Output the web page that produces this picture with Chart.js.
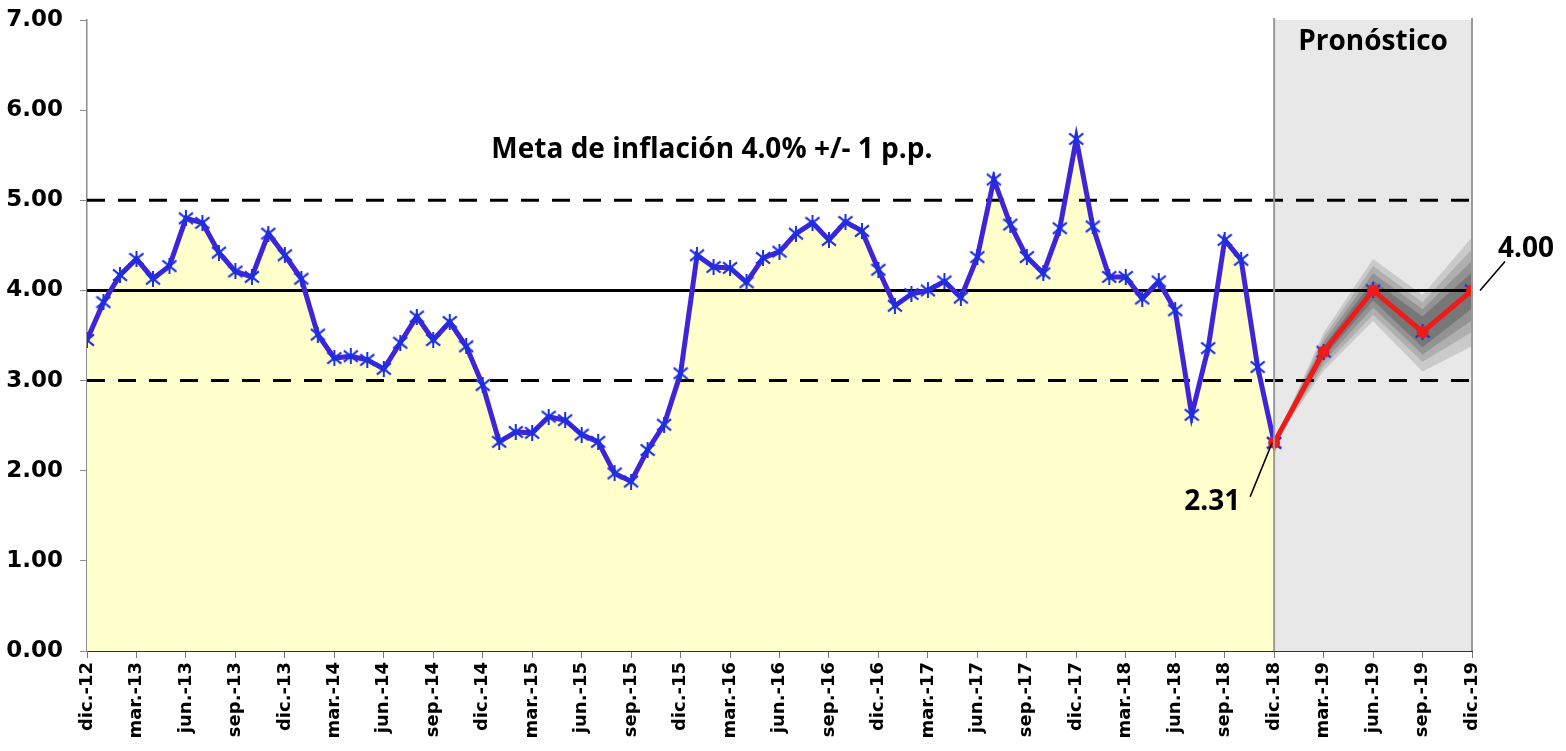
<!DOCTYPE html>
<html>
<head>
<meta charset="utf-8">
<script src="https://cdn.jsdelivr.net/npm/chart.js@4"></script>
<style>
  html, body { margin: 0; padding: 0; background: #fff; }
  #wrap { width: 1566px; height: 751px; }
</style>
</head>
<body>
<div id="wrap"><canvas id="inflChart" width="1566" height="751"></canvas></div>
<script>
// quarterly axis labels, one every 3 months from dic.-12 to dic.-19
const quarterLabels = [
  'dic.-12', 'mar.-13', 'jun.-13', 'sep.-13', 'dic.-13', 'mar.-14', 'jun.-14', 'sep.-14',
  'dic.-14', 'mar.-15', 'jun.-15', 'sep.-15', 'dic.-15', 'mar.-16', 'jun.-16', 'sep.-16',
  'dic.-16', 'mar.-17', 'jun.-17', 'sep.-17', 'dic.-17', 'mar.-18', 'jun.-18', 'sep.-18',
  'dic.-18', 'mar.-19', 'jun.-19', 'sep.-19', 'dic.-19'
];

// monthly inflation, dic.-12 .. dic.-18
const inflation = [
  3.45, 3.87, 4.17, 4.35, 4.13, 4.27, 4.80, 4.75, 4.42, 4.21, 4.15, 4.63,
  4.39, 4.13, 3.51, 3.25, 3.27, 3.23, 3.13, 3.42, 3.71, 3.45, 3.65, 3.38,
  2.95, 2.32, 2.43, 2.42, 2.60, 2.56, 2.40, 2.32, 1.97, 1.88, 2.23, 2.51,
  3.08, 4.39, 4.26, 4.25, 4.09, 4.36, 4.43, 4.63, 4.75, 4.56, 4.76, 4.66,
  4.23, 3.83, 3.96, 4.00, 4.10, 3.92, 4.37, 5.23, 4.73, 4.37, 4.19, 4.69,
  5.68, 4.71, 4.15, 4.15, 3.91, 4.10, 3.78, 2.62, 3.36, 4.56, 4.34, 3.15,
  2.31
];

// quarterly forecast, dic.-18 .. dic.-19
const forecastLabels = ['dic.-18', 'mar.-19', 'jun.-19', 'sep.-19', 'dic.-19'];
const forecast = [2.31, 3.32, 4.00, 3.54, 4.00];

// fan chart bands around the forecast, inner to outer
const fanUpper1 = [2.31, 3.38, 4.11, 3.71, 4.20];
const fanLower1 = [2.31, 3.26, 3.89, 3.37, 3.80];
const fanUpper2 = [2.31, 3.43, 4.19, 3.79, 4.33];
const fanLower2 = [2.31, 3.21, 3.81, 3.29, 3.67];
const fanUpper3 = [2.31, 3.48, 4.27, 3.87, 4.46];
const fanLower3 = [2.31, 3.16, 3.73, 3.21, 3.54];
const fanUpper4 = [2.31, 3.53, 4.35, 3.95, 4.59];
const fanLower4 = [2.31, 3.11, 3.66, 3.10, 3.38];

// inflation target and tolerance range
const target = 4.0;
const targetLow = 3.0;
const targetHigh = 5.0;

const monthOf = lbl => quarterLabels.indexOf(lbl) * 3;
const lastMonth = monthOf('dic.-19');
const fcMonths = forecastLabels.map(monthOf);

const histPoints = inflation.map((v, i) => ({ x: i, y: v }));
const fcPoints = arr => arr.map((v, k) => ({ x: fcMonths[k], y: v }));
const hLine = v => [{ x: 0, y: v }, { x: lastMonth, y: v }];

// Excel-like star marker: an X crossed by a vertical stroke
function starMarker(color, size) {
  const c = document.createElement('canvas');
  c.width = size; c.height = size;
  const g = c.getContext('2d');
  const m = size / 2, r = m - 1;
  g.strokeStyle = color;
  g.lineWidth = 2;
  g.beginPath();
  g.moveTo(m - r, m - r * 0.8); g.lineTo(m + r, m + r * 0.8);
  g.moveTo(m + r, m - r * 0.8); g.lineTo(m - r, m + r * 0.8);
  g.moveTo(m, 0); g.lineTo(m, size);
  g.stroke();
  return c;
}
const blueStar = starMarker('#1a30e2', 16);

const fanColors = ['#777777', '#939393', '#afafaf', '#cacaca'];
const fanSets = [[fanUpper1, fanLower1], [fanUpper2, fanLower2], [fanUpper3, fanLower3], [fanUpper4, fanLower4]];
const fanDatasets = [];
fanSets.forEach(([up, lo], k) => {
  fanDatasets.push({ data: fcPoints(up), fill: '+1', backgroundColor: fanColors[k], borderWidth: 0, pointRadius: 0, order: 4 + k });
  fanDatasets.push({ data: fcPoints(lo), fill: false, borderWidth: 0, pointRadius: 0, order: 4 + k });
});

const forecastZone = {
  id: 'forecastZone',
  beforeDatasetsDraw(chart) {
    const { ctx, chartArea: a, scales: { x } } = chart;
    const x0 = x.getPixelForValue(fcMonths[0]);
    const x1 = x.getPixelForValue(fcMonths[fcMonths.length - 1]);
    ctx.save();
    ctx.fillStyle = '#e8e8e8';
    ctx.fillRect(x0, a.top, x1 - x0, a.bottom - a.top);
    ctx.restore();
  },
  afterDatasetsDraw(chart) {
    const { ctx, chartArea: a, scales: { x, y } } = chart;
    const x0 = x.getPixelForValue(fcMonths[0]);
    const x1 = x.getPixelForValue(fcMonths[fcMonths.length - 1]);
    ctx.save();
    ctx.strokeStyle = '#9a9a9a';
    ctx.lineWidth = 2;
    [x0, x1].forEach(px => {
      ctx.beginPath(); ctx.moveTo(px, a.top - 2); ctx.lineTo(px, a.bottom); ctx.stroke();
    });

    ctx.fillStyle = '#000';
    ctx.textAlign = 'center';
    ctx.textBaseline = 'middle';
    ctx.font = 'bold 28px "Open Sans"';
    ctx.fillText('Meta de inflación 4.0% +/- 1 p.p.', x.getPixelForValue(37.9), y.getPixelForValue(5.56));
    ctx.fillText('Pronóstico', (x0 + x1) / 2, y.getPixelForValue(6.76));

    // callouts for first and last forecast values
    const pA = { x: x0, y: y.getPixelForValue(forecast[0]) };
    const pB = { x: x1, y: y.getPixelForValue(forecast[forecast.length - 1]) };
    ctx.strokeStyle = '#000';
    ctx.lineWidth = 1.6;
    ctx.beginPath();
    ctx.moveTo(pA.x - 2, pA.y); ctx.lineTo(pA.x - 24, pA.y + 54);
    ctx.moveTo(pB.x + 8, pB.y); ctx.lineTo(pB.x + 33, pB.y - 29);
    ctx.stroke();
    ctx.font = 'bold 28px "Open Sans"';
    ctx.fillText(forecast[0].toFixed(2), pA.x - 62, pA.y + 59);
    ctx.fillText(forecast[forecast.length - 1].toFixed(2), pB.x + 54, pB.y - 41);
    ctx.restore();
  }
};

new Chart(document.getElementById('inflChart'), {
  type: 'line',
  data: {
    datasets: [
      { data: fcPoints(forecast), borderColor: '#ee1b1b', borderWidth: 5, pointStyle: 'circle',
        pointRadius: 6, pointBackgroundColor: '#ee1b1b', pointBorderWidth: 0, fill: false, order: 0 },
      { data: fcPoints(forecast), showLine: false, pointStyle: blueStar, order: 1 },
      { data: histPoints, borderColor: '#3f24d8', borderWidth: 5, pointStyle: blueStar, fill: false, order: 2 },
      { data: hLine(target), borderColor: '#000', borderWidth: 3, pointRadius: 0, fill: false, order: 3 },
      { data: hLine(targetHigh), borderColor: '#000', borderWidth: 3, borderDash: [18, 13], pointRadius: 0, fill: false, order: 3 },
      { data: hLine(targetLow), borderColor: '#000', borderWidth: 3, borderDash: [18, 13], pointRadius: 0, fill: false, order: 3 },
      ...fanDatasets,
      { data: histPoints, fill: 'origin', backgroundColor: '#ffffcc', borderWidth: 0, pointRadius: 0, order: 9 }
    ]
  },
  options: {
    responsive: false,
    animation: false,
    devicePixelRatio: 1,
    layout: { padding: { top: 20, right: 94, left: 0, bottom: 0 } },
    elements: { line: { tension: 0 } },
    plugins: { legend: { display: false }, tooltip: { enabled: false } },
    scales: {
      x: {
        type: 'linear', min: 0, max: lastMonth,
        ticks: {
          stepSize: 3, autoSkip: false, maxRotation: 90, minRotation: 90, padding: 4,
          color: '#000', font: { family: 'DejaVu Sans', weight: 'bold', size: 18 },
          callback: v => quarterLabels[Math.round(v / 3)]
        },
        grid: { drawOnChartArea: false, tickLength: 7, color: '#777' },
        border: { color: '#333', width: 1 },
        afterFit(s) { s.height = 100; s.paddingLeft = 0; s.paddingRight = 0; }
      },
      y: {
        min: 0, max: 7,
        ticks: {
          stepSize: 1, padding: 17, color: '#000',
          font: { family: 'DejaVu Sans', weight: 'bold', size: 23 },
          callback: v => v.toFixed(2)
        },
        grid: { drawOnChartArea: false, tickLength: 7, color: '#8c8c8c' },
        border: { color: '#8c8c8c', width: 1.5 },
        afterFit(s) { s.width = 87; s.paddingTop = 0; s.paddingBottom = 0; }
      }
    }
  },
  plugins: [forecastZone]
});
</script>
</body>
</html>
